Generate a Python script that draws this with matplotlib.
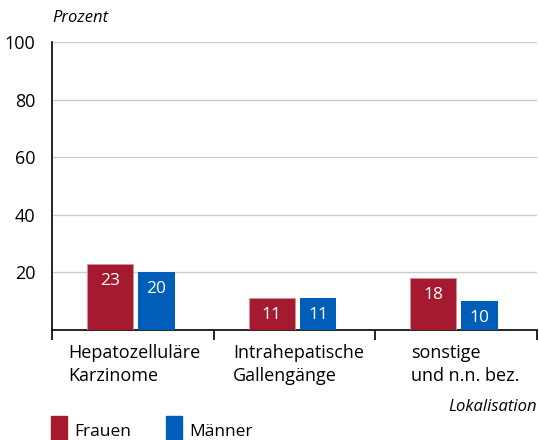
import numpy as np
import matplotlib
matplotlib.use("Agg")
import matplotlib.pyplot as plt
from matplotlib.patches import Rectangle

plt.rcParams['font.family'] = ['Open Sans', 'DejaVu Sans']

categories = ['Hepatozelluläre\nKarzinome', 'Intrahepatische\nGallengänge', 'sonstige\nund n.n. bez.']
frauen = [23, 11, 18]
maenner = [20, 11, 10]
yticks = [20, 40, 60, 80, 100]

red = '#A51A2E'
blue = '#005EB8'

fig = plt.figure(figsize=(5.39, 4.40), dpi=100)
ax = fig.add_axes([0.0965, 0.25, 0.9, 0.6545])

x = np.arange(len(categories))
ax.bar(x + 0.358, frauen, width=0.284, color=red, edgecolor='#D9909A', linewidth=0.6, zorder=3)
ax.bar(x + 0.645, maenner, width=0.228, color=blue, zorder=3)

# value labels inside the top of each bar
for i in range(len(categories)):
    ax.annotate(str(frauen[i]), (x[i] + 0.358, frauen[i]), xytext=(0, -17),
                textcoords='offset pixels',
                ha='center', va='center', color='white', fontsize=12.5, zorder=4)
    ax.annotate(str(maenner[i]), (x[i] + 0.645, maenner[i]), xytext=(0, -17),
                textcoords='offset pixels',
                ha='center', va='center', color='white', fontsize=12.5, zorder=4)

ax.set_xlim(0, 3)
ax.set_ylim(0, 100)
ax.set_yticks(yticks)
ax.tick_params(axis='y', length=0, pad=12, labelsize=13)
ax.yaxis.grid(True, color='#CCCCCC', linewidth=1)
ax.set_axisbelow(True)

ax.set_xticks([0, 1, 2, 3])
ax.set_xticklabels([])
ax.tick_params(axis='x', length=7, width=1.2, direction='out')

for s in ['top', 'right']:
    ax.spines[s].set_visible(False)
ax.spines['left'].set_linewidth(1.2)
ax.spines['bottom'].set_linewidth(1.2)

# category labels, left-aligned under each group
label_x = [0.10, 1.12, 2.22]
for lx, lab in zip(label_x, categories):
    ax.text(lx, -5.0, lab, ha='left', va='top', fontsize=13, linespacing=1.3,
            transform=ax.transData)

fig.text(52 / 539, 1 - 18 / 440, 'Prozent', style='italic', fontsize=12,
         ha='left', va='center')
fig.text(537 / 539, 1 - 407 / 440, 'Lokalisation', style='italic', fontsize=12,
         ha='right', va='center')

# legend
for px, col, name in [(51, red, 'Frauen'), (166, blue, 'Männer')]:
    fig.patches.append(Rectangle((px / 539, 0), 16 / 539, 24 / 440, color=col,
                                 transform=fig.transFigure, figure=fig))
    fig.text((px + 23) / 539, 1 - 432 / 440, name, fontsize=12.5, ha='left', va='center')

fig.savefig('out.png', dpi=100)
